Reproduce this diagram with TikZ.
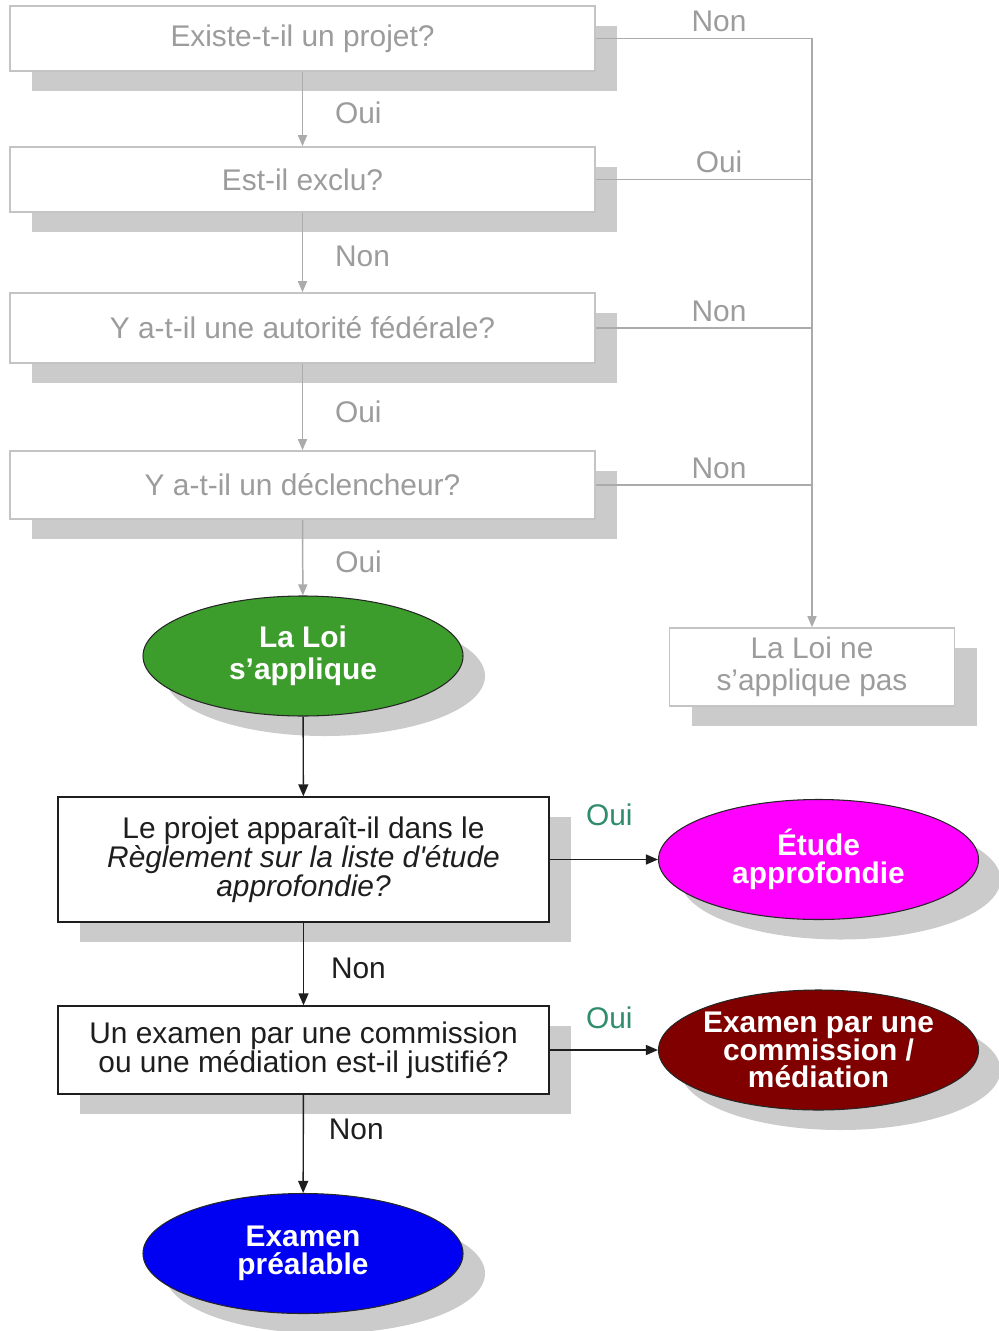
\documentclass[tikz,border=0pt]{standalone}
\usepackage{fontspec}
\setmainfont{Liberation Sans}
\usetikzlibrary{arrows.meta,shapes.geometric,shadows}
\definecolor{flowgrey}{HTML}{9C9C9C}
\definecolor{flowline}{HTML}{ABABAB}
\definecolor{flowframe}{HTML}{C4C4C4}
\definecolor{flowshade}{HTML}{CBCBCB}
\definecolor{flowink}{HTML}{1E1E1E}
\definecolor{flowteal}{HTML}{2F8C6C}
\definecolor{loigreen}{HTML}{3C9C2C}
\definecolor{etudemagenta}{HTML}{FF00FF}
\definecolor{examenred}{HTML}{800000}
\definecolor{prealblue}{HTML}{0000F2}
\newcommand\flowlines{\lineskiplimit=-20pt\relax}

\begin{document}
\begin{tikzpicture}[x=.2mm,y=-.2mm,
    font=\fontsize{17}{18}\selectfont\flowlines,
    boxshade/.style={general shadow={shadow xshift=4.4mm,shadow yshift=-4mm,fill=flowshade,draw=none}},
    greybox/.style={boxshade,rectangle,draw=flowframe,fill=white,line width=.9pt,
      text=flowgrey,minimum width=117mm,minimum height=13mm,inner sep=0pt,align=center},
    inkbox/.style={boxshade,rectangle,draw=flowink,fill=white,line width=.8pt,
      text=flowink,minimum width=98.2mm,inner sep=0pt,align=center,
      font=\fontsize{17}{16.6}\selectfont\flowlines},
    outcome/.style={boxshade,ellipse,draw=black!85,line width=.6pt,minimum width=64mm,
      minimum height=24mm,inner sep=-1.5mm,text=white,align=center,
      font=\fontsize{17}{15.8}\selectfont\flowlines\bfseries},
    greyarrow/.style={flowline,line width=.85pt,-{Triangle[length=2.2mm,width=1.8mm]}},
    greyline/.style={flowline,line width=.85pt},
    inkarrow/.style={flowink,line width=.8pt,-{Triangle[length=2.4mm,width=2mm]}},
    greylbl/.style={text=flowgrey},
    inklbl/.style={text=flowink},
    ouilbl/.style={text=flowteal}]
  \useasboundingbox (0,0) rectangle (999,1331);
  \node[greybox] (projet) at (302.5,38.5) {Existe-t-il un projet?};
  \node[greybox] (exclu) at (302.5,179.5) {Est-il exclu?};
  \node[greybox,minimum height=14mm] (autorite) at (302.5,328) {Y a-t-il une autorité fédérale?};
  \node[greybox,minimum height=13.6mm] (declencheur) at (302.5,485) {Y a-t-il un déclencheur?};
  \node[greybox,minimum width=57mm,minimum height=15.6mm] (nonapplic) at (812,667)
    {La Loi ne\\s’applique pas};
  \node[outcome,fill=loigreen,font=\fontsize{17}{18}\selectfont\bfseries] (loi) at (303,656)
    {La Loi\\s’applique};
  \node[inkbox,minimum height=25mm] (liste) at (303.5,859.5)
    {Le projet apparaît-il dans le\\\textit{Règlement sur la liste d\textquotesingle étude}\\\textit{approfondie?}};
  \node[outcome,fill=etudemagenta] (etude) at (818.5,859.5) {Étude\\approfondie};
  \node[inkbox,minimum height=17.6mm] (justifie) at (303.5,1050)
    {Un examen par une commission\\ou une médiation est-il justifié?};
  \node[outcome,fill=examenred] (commission) at (818.5,1050) {Examen par une\\commission /\\médiation};
  \node[outcome,fill=prealblue] (prealable) at (303,1253.5) {Examen\\préalable};

  \draw[greyarrow] (projet) -- node[greylbl,pos=.55,anchor=west,xshift=5.2mm] {Oui} (exclu);
  \draw[greyarrow] (exclu) -- node[greylbl,pos=.55,anchor=west,xshift=5.2mm] {Non} (autorite);
  \draw[greyarrow] (autorite) -- node[greylbl,pos=.55,anchor=west,xshift=5.2mm] {Oui} (declencheur);
  \draw[greyarrow] (declencheur) -- node[greylbl,pos=.55,anchor=west,xshift=5.2mm] {Oui} (loi);

  \coordinate (rail) at (812,38.5);
  \draw[greyarrow] (projet.east) -- node[greylbl,above,pos=.57] {Non} (rail) -- (nonapplic.north);
  \draw[greyline] (exclu.east) -- node[greylbl,above,pos=.57] {Oui} (exclu.east -| rail);
  \draw[greyline] (autorite.east) -- node[greylbl,above,pos=.57] {Non} (autorite.east -| rail);
  \draw[greyline] (declencheur.east) -- node[greylbl,above,pos=.57] {Non} (declencheur.east -| rail);

  \draw[inkarrow] (loi) -- (liste);
  \draw[inkarrow] (liste) -- node[ouilbl,pos=.55,above=5.5mm] {Oui} (etude);
  \draw[inkarrow] (liste) -- node[inklbl,pos=.55,anchor=west,xshift=4.2mm] {Non} (justifie);
  \draw[inkarrow] (justifie) -- node[ouilbl,pos=.55,above=3mm] {Oui} (commission);
  \draw[inkarrow] (justifie) -- node[inklbl,pos=.35,anchor=west,xshift=3.8mm] {Non} (prealable);
\end{tikzpicture}
\end{document}
